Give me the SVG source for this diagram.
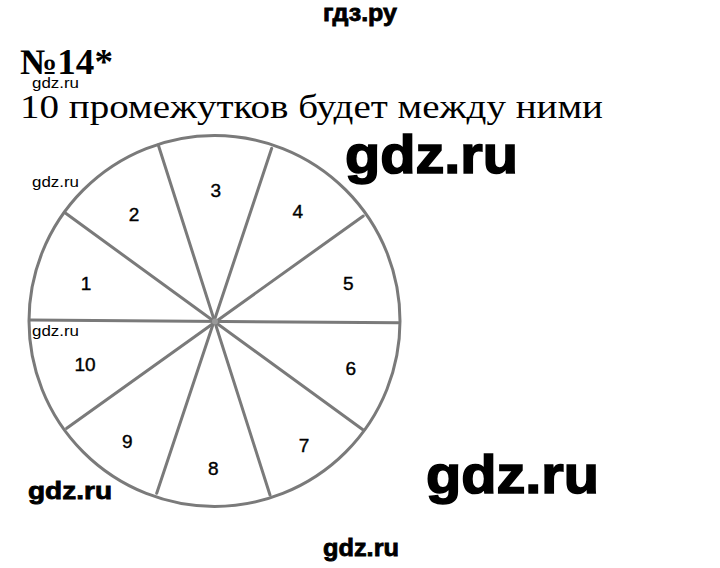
<svg xmlns="http://www.w3.org/2000/svg" width="720" height="568" viewBox="0 0 720 568">
<style>
.wm{font-family:"Liberation Sans",Arial,sans-serif;font-weight:bold;fill:#000;stroke:#000;stroke-width:0.8}
.big{stroke-width:1.6}
.thin{font-family:"Liberation Sans",Arial,sans-serif;font-size:15px;fill:#000}
.lbl{font-family:"Liberation Sans",Arial,sans-serif;font-size:19px;fill:#000;text-anchor:middle;stroke:#000;stroke-width:0.4}
.serif{font-family:"Liberation Serif","Times New Roman",serif;fill:#000}
.sp{stroke:#7a7a7a;stroke-width:3;fill:none;stroke-linecap:round}
</style>
<rect width="720" height="568" fill="#fff"/>
<text class="wm" x="323" y="21" font-size="24" textLength="74" lengthAdjust="spacingAndGlyphs">гдз.ру</text>
<text class="serif" x="20" y="74" font-size="36" font-weight="bold" textLength="93" lengthAdjust="spacingAndGlyphs">№14*</text>
<text class="thin" x="32" y="88" textLength="47" lengthAdjust="spacingAndGlyphs">gdz.ru</text>
<text class="serif" x="20" y="118" font-size="34" textLength="583" lengthAdjust="spacingAndGlyphs">10 промежутков будет между ними</text>
<text class="wm big" x="345" y="173" font-size="54" textLength="173" lengthAdjust="spacingAndGlyphs">gdz.ru</text>

<g id="wheel">
<circle class="sp" cx="214.5" cy="321" r="185.5"/>
</g>
<g id="connectors">
<line class="sp" x1="30" y1="320" x2="398.5" y2="322.7"/>
<line class="sp" x1="65.7" y1="213.3" x2="363.3" y2="430"/>
<line class="sp" x1="158.3" y1="145" x2="270" y2="495"/>
<line class="sp" x1="271.7" y1="148.3" x2="156.7" y2="493.3"/>
<line class="sp" x1="363.3" y1="216" x2="66.7" y2="428.3"/>
<circle cx="215" cy="321.5" r="3" fill="#999"/>
</g>
<g id="n1"><text class="lbl" x="86" y="289.5">1</text></g>
<g id="n2"><text class="lbl" x="134" y="221">2</text></g>
<g id="n3"><text class="lbl" x="215.7" y="196.8">3</text></g>
<g id="n4"><text class="lbl" x="297.7" y="218">4</text></g>
<g id="n5"><text class="lbl" x="348.3" y="289.5">5</text></g>
<g id="n6"><text class="lbl" x="350.7" y="375">6</text></g>
<g id="n7"><text class="lbl" x="304" y="452">7</text></g>
<g id="n8"><text class="lbl" x="213.3" y="475">8</text></g>
<g id="n9"><text class="lbl" x="127.3" y="447.5">9</text></g>
<g id="n10"><text class="lbl" x="85" y="370.7">10</text></g>

<text class="thin" x="32" y="187" textLength="47" lengthAdjust="spacingAndGlyphs">gdz.ru</text>
<text class="thin" x="32" y="336" textLength="47" lengthAdjust="spacingAndGlyphs">gdz.ru</text>
<text class="wm big" x="426" y="493" font-size="54" textLength="173" lengthAdjust="spacingAndGlyphs">gdz.ru</text>
<text class="wm" x="28" y="499" font-size="24" textLength="84" lengthAdjust="spacingAndGlyphs">gdz.ru</text>
<text class="wm" x="323" y="556" font-size="24" textLength="76" lengthAdjust="spacingAndGlyphs">gdz.ru</text>
</svg>
